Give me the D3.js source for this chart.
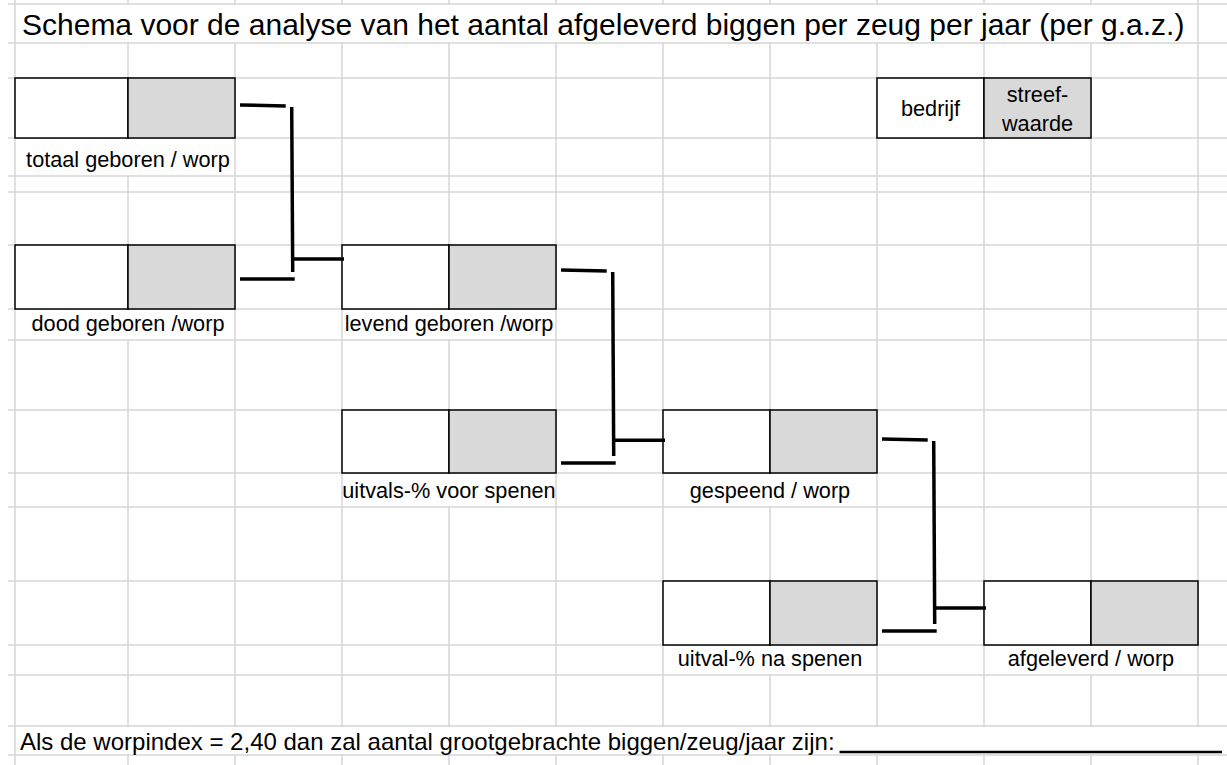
<!DOCTYPE html>
<html>
<head>
<meta charset="utf-8">
<script src="https://cdn.jsdelivr.net/npm/d3@7"></script>
<style>
    body { margin: 0; background: #fff; }
    text { font-family: "Liberation Sans", Arial, sans-serif; fill: #000; }
</style>
</head>
<body>
<div id="chart"></div>
<script>
const title = "Schema voor de analyse van het aantal afgeleverd biggen per zeug per jaar (per g.a.z.)";
const footer = "Als de worpindex = 2,40 dan zal aantal grootgebrachte biggen/zeug/jaar zijn:";

// boxes of the scheme: label, first grid column, grid row
const boxLabels = ["totaal geboren / worp", "dood geboren /worp", "levend geboren /worp",
    "uitvals-% voor spenen", "gespeend / worp", "uitval-% na spenen", "afgeleverd / worp"];
const boxCols = [0, 0, 3, 3, 6, 6, 9];
const boxRows = [2, 6, 6, 9, 9, 12, 12];

// two input boxes feed one result box
const linkInputs = [[0, 1], [2, 3], [4, 5]];
const linkTargets = [2, 4, 6];

const legendLabels = ["bedrijf", "streef-\nwaarde"];

// ---- layout ----
const width = 1227, height = 765;
const colEdges = [15, 128, 235, 342, 449, 556, 663, 770, 877, 984, 1091, 1198, 1305];
const rowEdges = [4, 43, 78, 138, 176, 192, 245, 309, 340, 410, 473, 507, 581, 645, 675, 726, 755, 790];

const x = d3.scaleLinear().domain(d3.range(colEdges.length)).range(colEdges);
const y = d3.scaleLinear().domain(d3.range(rowEdges.length)).range(rowEdges);

// hand drawn connectors: where each line sits inside its row (fraction of the row)
const topFrac = [0.45, 0.39, 0.46];
const bottomFrac = [0.53, 0.84, 0.78];
const outFrac = [0.22, 0.48, 0.42];

const gridColor = "#d6d6d6";
const boxGray = "#d9d9d9";

const svg = d3.select("#chart")
    .append("svg")
    .attr("width", width)
    .attr("height", height);

svg.append("rect").attr("width", width).attr("height", height).attr("fill", "#fff");

// grid lines
const grid = svg.append("g");
grid.selectAll(".hline")
    .data(rowEdges)
    .enter()
    .append("line")
    .attr("x1", 8)
    .attr("x2", width)
    .attr("y1", d => d)
    .attr("y2", d => d)
    .attr("stroke", gridColor)
    .attr("stroke-width", 1.5);

grid.selectAll(".vline")
    .data(colEdges.filter(d => d < width))
    .enter()
    .append("line")
    .attr("x1", d => d)
    .attr("x2", d => d)
    .attr("y1", 0)
    .attr("y2", height)
    .attr("stroke", gridColor)
    .attr("stroke-width", 1.5);

// text that runs over cells hides the grid line under it
const hidden = [];
d3.range(1, 11).forEach(c => hidden.push({ c, r: 0 }));
d3.range(1, 12).forEach(c => hidden.push({ c, r: 15 }));
boxCols.forEach((c, i) => hidden.push({ c: c + 1, r: boxRows[i] + 1 }));

grid.selectAll(".mask")
    .data(hidden)
    .enter()
    .append("rect")
    .attr("x", d => x(d.c) - 1.5)
    .attr("y", d => y(d.r) + 1)
    .attr("width", 3)
    .attr("height", d => y(d.r + 1) - y(d.r) - 2)
    .attr("fill", "#fff");

// title
svg.append("text")
    .attr("x", x(0) + 7)
    .attr("y", y(1) - 8)
    .style("font-size", "30px")
    .text(title);

// boxes
const boxes = svg.selectAll(".box")
    .data(boxLabels)
    .enter()
    .append("g")
    .attr("class", "box");

boxes.append("rect")
    .attr("x", (d, i) => x(boxCols[i]))
    .attr("y", (d, i) => y(boxRows[i]))
    .attr("width", (d, i) => x(boxCols[i] + 1) - x(boxCols[i]))
    .attr("height", (d, i) => y(boxRows[i] + 1) - y(boxRows[i]))
    .attr("fill", "#fff")
    .attr("stroke", "#000")
    .attr("stroke-width", 1.5);

boxes.append("rect")
    .attr("x", (d, i) => x(boxCols[i] + 1))
    .attr("y", (d, i) => y(boxRows[i]))
    .attr("width", (d, i) => x(boxCols[i] + 2) - x(boxCols[i] + 1))
    .attr("height", (d, i) => y(boxRows[i] + 1) - y(boxRows[i]))
    .attr("fill", boxGray)
    .attr("stroke", "#000")
    .attr("stroke-width", 1.5);

boxes.append("text")
    .attr("x", (d, i) => x(boxCols[i] + 1))
    .attr("y", (d, i) => y(boxRows[i] + 2) - 9)
    .attr("text-anchor", "middle")
    .style("font-size", "21.7px")
    .text(d => d);

// legend box
const legend = svg.append("g");
legendLabels.forEach((lab, i) => {
    legend.append("rect")
        .attr("x", x(8 + i))
        .attr("y", y(2))
        .attr("width", x(9 + i) - x(8 + i))
        .attr("height", y(3) - y(2))
        .attr("fill", i === 0 ? "#fff" : boxGray)
        .attr("stroke", "#000")
        .attr("stroke-width", 1.5);
    const lines = lab.split("\n");
    const mid = (y(2) + y(3)) / 2;
    lines.forEach((ln, j) => {
        legend.append("text")
            .attr("x", x(8.5 + i))
            .attr("y", mid + 8 + (j - (lines.length - 1) / 2) * 29)
            .attr("text-anchor", "middle")
            .style("font-size", "21.7px")
            .text(ln);
    });
});

// connectors
const conn = svg.append("g")
    .attr("stroke", "#000")
    .attr("stroke-width", 3.5)
    .attr("fill", "none");

linkInputs.forEach(([a, b], k) => {
    const t = linkTargets[k];
    const right = x(boxCols[a] + 2);
    const jx = x(boxCols[a] + 2.53);
    const yTop = y(boxRows[a] + topFrac[k]);
    const yBot = y(boxRows[b] + bottomFrac[k]);
    const yOut = y(boxRows[t] + outFrac[k]);

    conn.append("line").attr("x1", right + 5).attr("x2", jx - 6).attr("y1", yTop).attr("y2", yTop + 1);
    conn.append("line").attr("x1", jx).attr("x2", jx + 1).attr("y1", yTop + 2).attr("y2", yBot - 7);
    conn.append("line").attr("x1", right + 5).attr("x2", jx + 3).attr("y1", yBot).attr("y2", yBot);
    conn.append("line").attr("x1", jx).attr("x2", x(boxCols[t]) + 2).attr("y1", yOut).attr("y2", yOut);
});

// footer line with answer blank
const foot = svg.append("text")
    .attr("x", x(0) + 5)
    .attr("y", y(16) - 5)
    .style("font-size", "24px")
    .text(footer);

const footEnd = x(0) + 5 + foot.node().getComputedTextLength();
svg.append("line")
    .attr("x1", footEnd + 5)
    .attr("x2", x(11) + 24)
    .attr("y1", y(16) - 3)
    .attr("y2", y(16) - 3)
    .attr("stroke", "#000")
    .attr("stroke-width", 2.5);
</script>
</body>
</html>
